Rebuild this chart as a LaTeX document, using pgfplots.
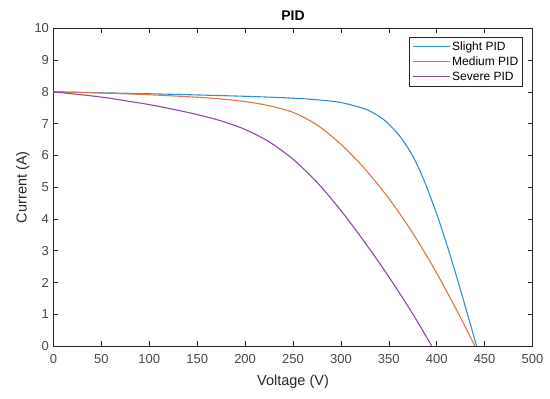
\documentclass[border=0pt]{standalone}
\usepackage{pgfplots}
\pgfplotsset{compat=1.18}
\usepackage{fontspec}
\setmainfont{Liberation Sans}
\usetikzlibrary{calc}
\definecolor{mblue}{RGB}{50,145,205}
\definecolor{morange}{RGB}{220,120,70}
\definecolor{mpurple}{RGB}{140,75,160}
\definecolor{axgray}{RGB}{38,38,38}
\begin{document}
\begin{tikzpicture}
\begin{axis}[
  scale only axis,
  width=479bp, height=317.7bp,
  xmin=0, xmax=500, ymin=0, ymax=10,
  xtick={0,50,...,500}, ytick={0,1,...,10},
  tick pos=both, tick align=inside,
  major tick length=5bp,
  axis line style={axgray, line width=0.6bp},
  every tick/.style={axgray, line width=0.6bp},
  /pgf/number format/assume math mode=true,
  tick label style={font=\fontsize{13bp}{15bp}\selectfont, text=axgray!85},
  xticklabel style={yshift=-5bp},
  yticklabel style={xshift=-1bp},
  label style={font=\fontsize{14.5bp}{17bp}\selectfont, text=axgray},
  xlabel={Voltage (V)},
  ylabel={Current (A)},
  xlabel style={yshift=-4bp},
  ylabel style={yshift=-2bp},
  title={\bfseries PID},
  title style={font=\fontsize{14bp}{16bp}\selectfont, yshift=-2bp},
  legend cell align=left,
  legend style={at={(1,1)}, anchor=north east, xshift=-9.5bp, yshift=-9bp,
    font=\fontsize{12bp}{14bp}\selectfont, draw=axgray, line width=0.6bp,
    inner xsep=3bp, inner ysep=2bp, row sep=0.5bp,
    nodes={inner sep=1.5bp, text height=9bp, text depth=2.5bp}},
  legend image code/.code={\draw[#1, line width=1bp] (0bp,0bp) -- (37bp,0bp);},
  clip=false,
]
\coordinate (sw) at (rel axis cs:0,0);
\coordinate (ne) at (rel axis cs:1,1);
\addplot[mblue, line width=1.1bp, smooth, tension=0.5] coordinates {
(0,8.0) (100,7.94) (200,7.86) (250,7.80) (275,7.75) (300,7.663) (325,7.463)
(340,7.226) (350,6.984) (362,6.585) (375,5.98) (387,5.20) (400,4.154)
(410,3.249) (420,2.264) (430,1.229) (441.6,0)
};
\addlegendentry{Slight PID}
\addplot[morange, line width=1.1bp, smooth, tension=0.5] coordinates {
(0,8.0) (50,7.963) (100,7.908) (150,7.83) (175,7.775) (200,7.693) (225,7.564)
(250,7.354) (275,6.96) (300,6.347) (325,5.575) (350,4.646) (375,3.555)
(400,2.295) (425,0.889) (439.7,0)
};
\addlegendentry{Medium PID}
\addplot[mpurple, line width=1.1bp, smooth, tension=0.5] coordinates {
(0,8.0) (25,7.92) (50,7.835) (75,7.72) (100,7.598) (125,7.45) (150,7.285)
(175,7.085) (200,6.816) (225,6.429) (250,5.879) (275,5.154) (300,4.266)
(325,3.26) (350,2.179) (375,1.01) (394.8,0)
};
\addlegendentry{Severe PID}
\end{axis}
\pgfresetboundingbox
\path ($(sw)+(-53.5bp,-52bp)$) rectangle ($(ne)+(17.5bp,28.3bp)$);
\end{tikzpicture}
\end{document}
